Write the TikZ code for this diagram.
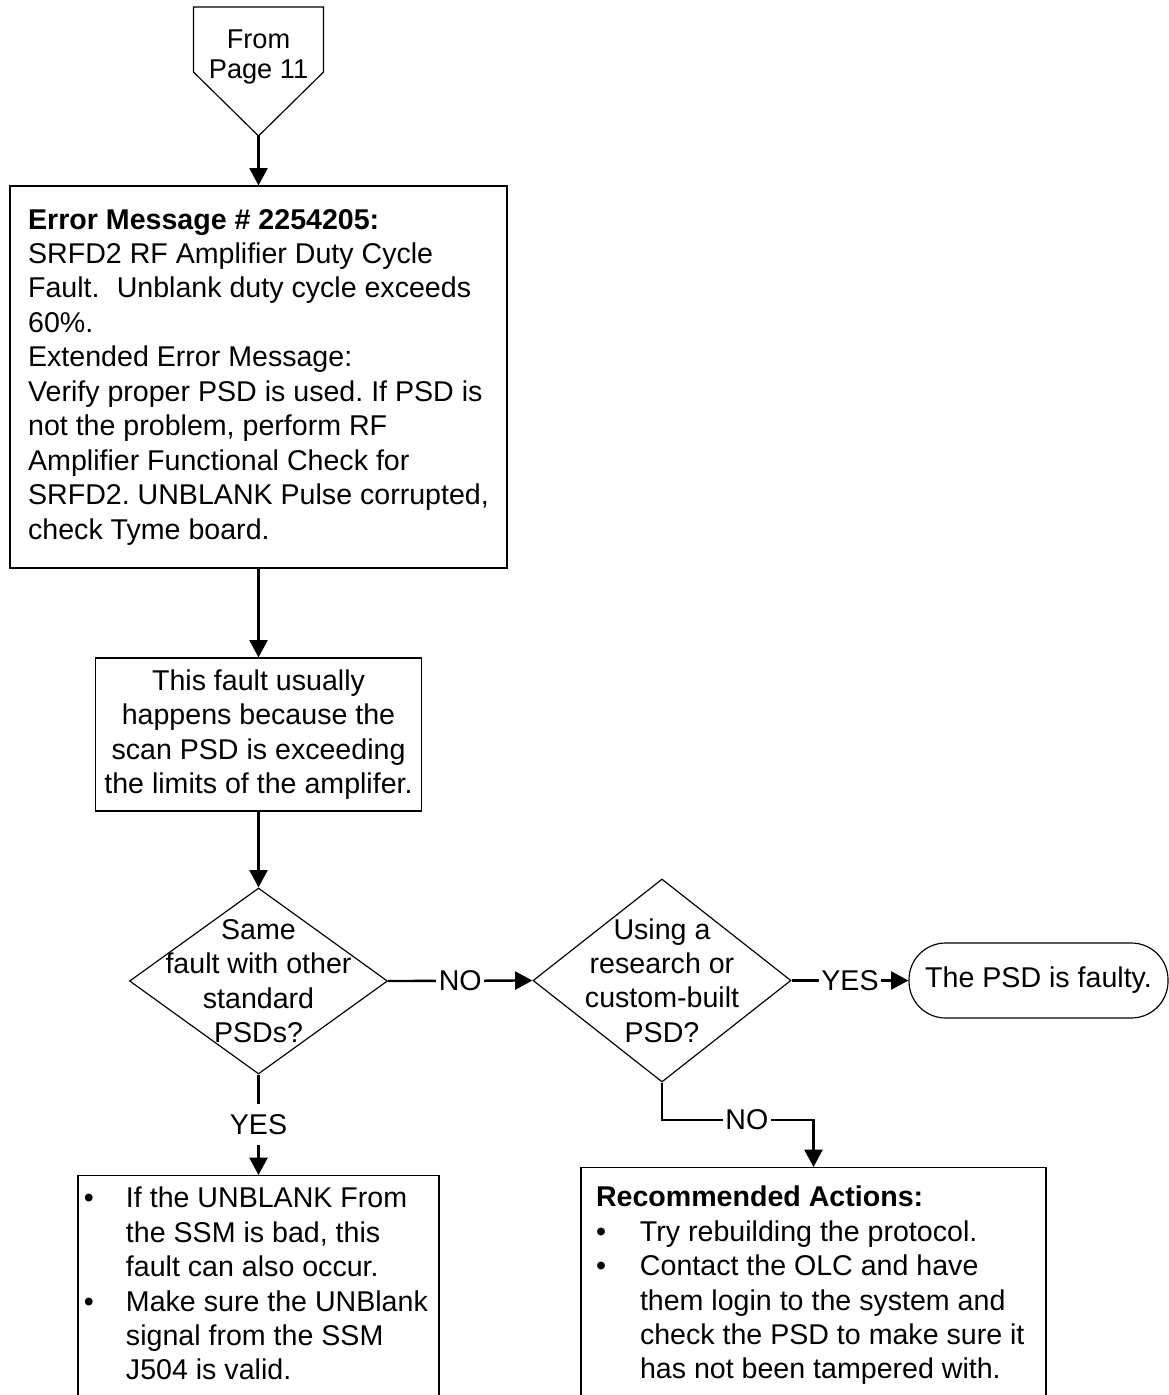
\documentclass[tikz,border=0pt]{standalone}
\usepackage{fontspec}
\setmainfont{Liberation Sans}
\usetikzlibrary{shapes.geometric,arrows.meta}
\frenchspacing

\begin{document}
\begin{tikzpicture}[x=0.015cm, y=-0.015cm,
  every node/.style={font=\fontsize{12.2}{14.7}\selectfont},
  box/.style={draw, line width=0.5pt},
  decision/.style={draw, diamond, line width=0.5pt, inner sep=0pt},
  conn/.style={line width=1pt, -{Triangle[length=0.26cm,width=0.27cm]}},
  lbl/.style={fill=white, inner xsep=1pt, inner ysep=4.5pt}]
  % 画布范围（下方两个框被截断）
  \useasboundingbox (0,0) rectangle (1169,1395);
  \clip (0,0) rectangle (1169,1395);
  % 页外连接符
  \draw[line width=0.5pt] (193.5,7) -- (323.5,7) -- (323.5,72) -- (258.5,136) -- (193.5,72) -- cycle;
  \coordinate (fromtip) at (258.5,136);
  \node[align=center, font=\fontsize{11.6}{12.4}\selectfont] (from) at (258.5,57) {From\\Page 11};
  % 错误信息
  \node[box, align=left, minimum width=497*0.015cm, minimum height=382*0.015cm] (err) at (258.5,377)
    {\textbf{Error Message \# 2254205:}\\
     SRFD2 RF Amplifier Duty Cycle\\
     Fault.\hspace{0.6em}Unblank duty cycle exceeds\\
     60\%.\\
     Extended Error Message:\\
     Verify proper PSD is used. If PSD is\\
     not the problem, perform RF\\
     Amplifier Functional Check for\\
     SRFD2. UNBLANK Pulse corrupted,\\
     check Tyme board.};
  \node[box, align=center, minimum width=326*0.015cm, minimum height=153*0.015cm] (cause) at (258.5,734.5)
    {This fault usually\\ happens because the\\ scan PSD is exceeding\\ the limits of the amplifer.};
  % 两个判断
  \node[decision, minimum width=258*0.015cm, minimum height=186*0.015cm] (same) at (258.5,981) {};
  \node[align=center] (sametxt) at (same) {Same\\ fault with other\\ standard\\ PSDs?};
  \node[decision, minimum width=258*0.015cm, minimum height=203*0.015cm] (using) at (662,980.5) {};
  \node[align=center] (usingtxt) at (using) {Using a\\ research or\\ custom-built\\ PSD?};
  \node[draw, line width=0.5pt, rounded corners=0.55cm, minimum width=259*0.015cm, minimum height=75*0.015cm,
    inner sep=0pt] (faulty) at (1038.5,980.5) {The PSD is faulty.};
  % 底部两个框
  \node[box, anchor=north, inner xsep=0.09cm, inner ysep=0.12cm] (yesbox) at (258.5,1175)
    {\parbox[t][5cm][t]{5.235cm}{\begin{tabular}{@{}p{0.63cm}@{}l@{}}
      \textbullet & If the UNBLANK From\\
                  & the SSM is bad, this\\
                  & fault can also occur.\\
      \textbullet & Make sure the UNBlank\\
                  & signal from the SSM\\
                  & J504 is valid.
    \end{tabular}}};
  \node[box, anchor=north, inner xsep=0.225cm, inner ysep=0.225cm] (recbox) at (813.5,1167)
    {\parbox[t][5cm][t]{6.525cm}{\begin{tabular}{@{}p{0.66cm}@{}l@{}}
      \multicolumn{2}{@{}l@{}}{\textbf{Recommended Actions:}}\\
      \textbullet & Try rebuilding the protocol.\\
      \textbullet & Contact the OLC and have\\
                  & them login to the system and\\
                  & check the PSD to make sure it\\
                  & has not been tampered with.
    \end{tabular}}};
  % 连线
  \coordinate (nobend) at (813.5,1120);
  \draw[conn] (fromtip) -- (err.north);
  \draw[conn] (err.south) -- (cause.north);
  \draw[conn] (cause.south) -- (same.north);
  \draw[conn] (same.east) -- node[lbl] {NO} (using.west);
  \draw[conn] (using.east) -- node[lbl] {YES} (faulty.west);
  \draw[conn] (same.south) -- node[lbl] {YES} (yesbox.north);
  \draw[conn] (using.south) |- node[lbl, pos=0.78] {NO} (nobend) -- (recbox.north);
\end{tikzpicture}
\end{document}
